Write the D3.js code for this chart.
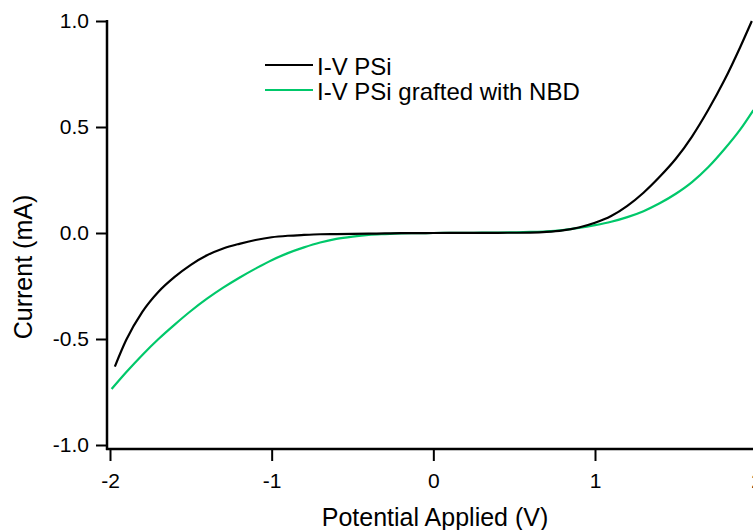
<!DOCTYPE html>
<html>
<head>
	<meta charset="utf-8">
	<script src="https://d3js.org/d3.v7.min.js"></script>
	<style>
		body { margin: 0; background: #fff; }
		text { font-family: "Liberation Sans", Arial, Helvetica, sans-serif; fill: #000; }
	</style>
</head>
<body>
	<script type="text/javascript">
		// chart size
		var width = 753;
		var height = 530;

		// I-V PSi (black) : potential (V) and current (mA)
		var voltPSi = [-1.97, -1.9, -1.8, -1.7, -1.6, -1.5, -1.4, -1.3, -1.2, -1.1, -1.0,
			-0.9, -0.8, -0.7, -0.6, -0.5, -0.4, -0.3, -0.2, -0.1, 0,
			0.1, 0.2, 0.3, 0.4, 0.5, 0.6, 0.7, 0.8, 0.9, 1.0,
			1.1, 1.2, 1.3, 1.4, 1.5, 1.6, 1.7, 1.8, 1.9, 1.97];
		var currPSi = [-0.63, -0.505, -0.372, -0.277, -0.207, -0.150, -0.105, -0.073, -0.051, -0.033, -0.020,
			-0.013, -0.009, -0.006, -0.005, -0.004, -0.003, -0.002, -0.001, -0.0005, 0,
			0.0003, 0.0005, 0.0007, 0.001, 0.0012, 0.002, 0.005, 0.012, 0.026, 0.048,
			0.08, 0.128, 0.19, 0.265, 0.35, 0.455, 0.58, 0.72, 0.88, 1.0];

		// I-V PSi grafted with NBD (green)
		var voltNBD = [-1.99, -1.9, -1.8, -1.7, -1.6, -1.5, -1.4, -1.3, -1.2, -1.1, -1.0,
			-0.9, -0.8, -0.7, -0.6, -0.5, -0.4, -0.3, -0.2, -0.1, 0,
			0.1, 0.2, 0.3, 0.4, 0.5, 0.6, 0.7, 0.8, 0.9, 1.0,
			1.1, 1.2, 1.3, 1.4, 1.5, 1.6, 1.7, 1.8, 1.9, 1.98];
		var currNBD = [-0.736, -0.657, -0.575, -0.50, -0.432, -0.368, -0.310, -0.258, -0.211, -0.168, -0.128,
			-0.095, -0.068, -0.045, -0.028, -0.017, -0.009, -0.005, -0.002, -0.001, 0,
			0.0005, 0.001, 0.0015, 0.002, 0.003, 0.005, 0.008, 0.014, 0.024, 0.037,
			0.053, 0.075, 0.103, 0.14, 0.185, 0.24, 0.31, 0.395, 0.49, 0.58];

		var xTicks = [-2, -1, 0, 1, 2];
		var yTicks = [-1.0, -0.5, 0.0, 0.5, 1.0];
		var seriesNames = ["I-V PSi", "I-V PSi grafted with NBD"];
		var seriesColors = ["#000000", "#00c86a"];

		var svg = d3.select('body').append('svg')
			.attr('width', width)
			.attr('height', height);

		// scales
		var x = d3.scaleLinear().domain([-2, 1]).range([110, 595]);
		var y = d3.scaleLinear().domain([-1, 1]).range([445, 21]);

		var axisX = 107, axisY = 449;
		var hyphen = function(f){ return function(d){ return f(d).replace('\u2212', '-'); }; };

		// x axis
		var gx = svg.append('g').attr('transform', 'translate(0,' + axisY + ')')
			.call(d3.axisBottom(x).tickValues(xTicks).tickSize(12).tickSizeOuter(0).tickPadding(12)
				.tickFormat(hyphen(d3.format('d'))));
		gx.select('.domain').remove();
		gx.selectAll('line').attr('stroke', '#000').attr('stroke-width', 2);
		gx.selectAll('text').attr('font-size', 21).style('font-family', '"Liberation Sans", Arial, sans-serif');

		// y axis
		var gy = svg.append('g').attr('transform', 'translate(' + axisX + ',0)')
			.call(d3.axisLeft(y).tickValues(yTicks).tickSize(11).tickSizeOuter(0).tickPadding(7)
				.tickFormat(hyphen(d3.format('.1f'))));
		gy.select('.domain').remove();
		gy.selectAll('line').attr('stroke', '#000').attr('stroke-width', 2);
		gy.selectAll('text').attr('font-size', 21).style('font-family', '"Liberation Sans", Arial, sans-serif');

		// axis lines
		svg.append('line').attr('x1', axisX).attr('x2', axisX).attr('y1', 20).attr('y2', axisY + 1)
			.attr('stroke', '#000').attr('stroke-width', 2.5);
		svg.append('line').attr('x1', axisX - 1).attr('x2', width).attr('y1', axisY).attr('y2', axisY)
			.attr('stroke', '#000').attr('stroke-width', 2.5);

		// curves
		var line = d3.line()
			.x(function(d){ return x(d[0]); })
			.y(function(d){ return y(d[1]); })
			.curve(d3.curveMonotoneX);

		var psi = d3.zip(voltPSi, currPSi);
		var nbd = d3.zip(voltNBD, currNBD);

		svg.append('path').datum(nbd).attr('d', line)
			.attr('fill', 'none').attr('stroke', seriesColors[1]).attr('stroke-width', 2.2);
		svg.append('path').datum(psi).attr('d', line)
			.attr('fill', 'none').attr('stroke', seriesColors[0]).attr('stroke-width', 2.2);

		// legend
		var legend = svg.append('g');
		seriesNames.forEach(function(name, i){
			var ly = 65 + i * 25;
			legend.append('line').attr('x1', 265).attr('x2', 313).attr('y1', ly).attr('y2', ly)
				.attr('stroke', seriesColors[i]).attr('stroke-width', 2.2);
			legend.append('text').attr('x', 317).attr('y', ly + 10).attr('font-size', 24).text(name);
		});

		// axis titles
		svg.append('text').attr('x', 435).attr('y', 526).attr('text-anchor', 'middle')
			.attr('font-size', 25).text('Potential Applied (V)');
		svg.append('text').attr('transform', 'translate(32,267) rotate(-90)').attr('text-anchor', 'middle')
			.attr('font-size', 25).text('Current (mA)');
	</script>
</body>
</html>
